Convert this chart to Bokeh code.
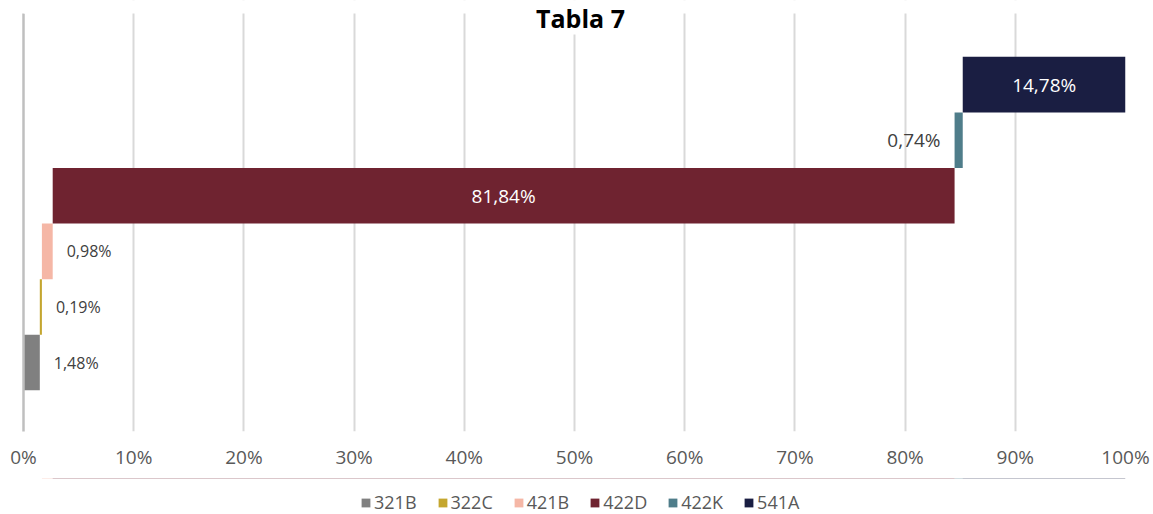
import numpy as np
from bokeh.plotting import figure
from bokeh.layouts import column
from bokeh.models import ColumnDataSource, FixedTicker, Label, Range1d, BoxAnnotation
from bokeh.embed import file_html
from bokeh.resources import INLINE
from bokeh.core.properties import value

# ---- data ----
categories = ["321B", "322C", "421B", "422D", "422K", "541A"]
shares = [1.48, 0.19, 0.98, 81.84, 0.74, 14.78]
colors = ["#808080", "#c4a62f", "#f5b7a6", "#6f2330", "#4f7d8a", "#1a1e42"]
tick_values = [0, 10, 20, 30, 40, 50, 60, 70, 80, 90, 100]
tick_labels = ["0%", "10%", "20%", "30%", "40%", "50%", "60%", "70%", "80%", "90%", "100%"]
title_text = "Tabla 7"

FONT = "Open Sans"

shares_arr = np.array(shares)
ends = np.cumsum(shares_arr)
starts = ends - shares_arr
rows = np.arange(len(categories))
labels = [f"{v:.2f}".replace(".", ",") + "%" for v in shares]

src = ColumnDataSource(dict(cat=categories, row=rows, left=starts, right=ends,
                            color=colors, label=labels))

y_start = -1.24
plot_top = 6.28       # top of the gridded plot area (in row units)
canvas_top = 6.514    # top of the drawing frame (room for the title)

p = figure(width=1153, height=478, output_backend="svg", toolbar_location=None,
           x_range=Range1d(0, 100), y_range=Range1d(y_start, canvas_top),
           min_border_left=23, min_border_right=28, min_border_top=0, min_border_bottom=47,
           outline_line_color=None)

p.hbar(y="row", left="left", right="right", height=1.0, fill_color="color",
       line_color=None, source=src)

# x axis
p.xaxis.ticker = FixedTicker(ticks=tick_values)
p.xaxis.major_label_overrides = {v: l for v, l in zip(tick_values, tick_labels)}
p.xaxis.axis_line_color = None
p.xaxis.major_tick_line_color = None
p.xaxis.minor_tick_line_color = None
p.xaxis.major_label_text_font = FONT
p.xaxis.major_label_text_font_size = "19px"
p.xaxis.major_label_text_color = "#595959"
p.xaxis.major_label_standoff = 6
p.xgrid.ticker = FixedTicker(ticks=tick_values)
p.xgrid.grid_line_color = "#d9d9d9"
p.xgrid.grid_line_width = 2

# y axis: only its line, limited to the gridded area
p.ygrid.visible = False
p.yaxis.ticker = FixedTicker(ticks=[])
p.yaxis.bounds = (y_start, plot_top)
p.yaxis.axis_line_color = "#bfbfbf"
p.yaxis.axis_line_width = 2.5
p.yaxis.major_tick_line_color = None
p.yaxis.minor_tick_line_color = None

# blank strip above the gridded area
p.add_layout(BoxAnnotation(bottom=plot_top, fill_color="white", fill_alpha=1.0, line_color=None))

# data labels
out_idx = [0, 1, 2]
mid_idx = [3, 5]
left_idx = [4]

def sub(idx):
    return ColumnDataSource(dict(row=rows[idx], left=starts[idx], right=ends[idx],
                                 mid=((starts + ends) / 2)[idx], label=[labels[i] for i in idx]))

p.text(x="right", y="row", text="label", source=sub(out_idx), text_align="left",
       text_baseline="middle", x_offset=14, text_font=value(FONT), text_font_size="16px",
       text_color="#404040")
p.text(x="mid", y="row", text="label", source=sub(mid_idx), text_align="center",
       text_baseline="middle", text_font=value(FONT), text_font_size="19px",
       text_color="#ffffff")
p.text(x="left", y="row", text="label", source=sub(left_idx), text_align="right",
       text_baseline="middle", x_offset=-14, text_font=value(FONT), text_font_size="19px",
       text_color="#404040")

# title
p.add_layout(Label(x=50, y=plot_top, x_offset=6, y_offset=-4, text=title_text,
                   text_align="center", text_baseline="middle", text_font=FONT,
                   text_font_size="25px", text_font_style="bold", text_color="#000000",
                   background_fill_color="white"))

# legend strip (separate figure; its zero-height bars are invisible)
pl = figure(width=1153, height=36, output_backend="svg", toolbar_location=None,
            x_axis_type=None, y_axis_type=None, x_range=Range1d(0, 100),
            y_range=Range1d(0, 1), min_border=0, outline_line_color=None)
pl.hbar(y="row", left="left", right="right", height=0, fill_color="color",
        line_color=None, source=src, legend_field="cat")
lg = pl.legend[0]
lg.location = (337, 0)
lg.orientation = "horizontal"
lg.glyph_width = 11
lg.glyph_height = 11
lg.label_standoff = 3
lg.spacing = 20
lg.padding = 0
lg.margin = 0
lg.border_line_color = None
lg.background_fill_alpha = 0
lg.label_text_font = FONT
lg.label_text_font_size = "18px"
lg.label_text_color = "#595959"

layout = column(p, pl, spacing=0)
open("out.html", "w").write(file_html(layout, INLINE))
